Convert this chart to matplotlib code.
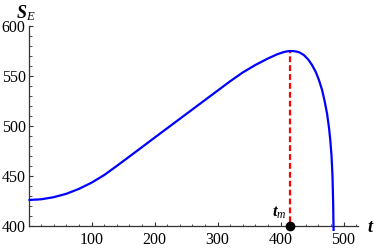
import matplotlib
matplotlib.use("Agg")
import matplotlib.pyplot as plt
from matplotlib.ticker import MultipleLocator

plt.rcParams['font.family'] = ['Liberation Serif', 'DejaVu Serif']
plt.rcParams['mathtext.fontset'] = 'custom'
plt.rcParams['mathtext.rm'] = 'Liberation Serif'
plt.rcParams['mathtext.it'] = 'Liberation Serif:italic'
plt.rcParams['mathtext.bf'] = 'Liberation Serif:italic:bold'

# curve
t_vals = [0, 20, 40, 60, 80, 100, 120, 140, 160, 180, 200, 230, 260, 290, 320,
          340, 360, 380, 395, 405, 410, 415, 420, 425, 430, 437, 444,
          450, 456, 461, 466, 470, 474, 477, 479, 481, 482.5, 483.5, 484, 484.3]
s_vals = [426, 426.7, 428.8, 432.2, 437.1, 443.3, 450.9, 460, 469.4, 478.8, 488.3,
          502.4, 516.5, 530.6, 544.7, 553.5, 561, 567.5, 571.8, 573.9, 574.6,
          575, 574.9, 574.5, 573.6, 571, 566.5, 561, 554, 546,
          536, 525, 512, 498, 486, 470, 450, 425, 405, 395]
t_m = 415
s_max = 575
s_low = 395

x_ticks = [100, 200, 300, 400, 500]
y_ticks = [400, 450, 500, 550, 600]

fig = plt.figure(figsize=(3.74, 2.5), dpi=100)
ax = fig.add_axes([28.5/374, 24/250, (358-28.5)/374, 200/250])
ax.set_xlim(0, 523)
ax.set_ylim(400, 600)

ax.plot(t_vals, s_vals, color='#0000ff', lw=1.6, solid_capstyle='butt',
        solid_joinstyle='round', clip_on=False, zorder=3)
ax.plot([t_m, t_m], [s_low, s_max], color='#ff0000', lw=1.6, dashes=(2.6, 1.4),
        clip_on=False, zorder=2)
ax.plot([t_m], [400], 'o', color='black', ms=6, clip_on=False, zorder=5)

for side in ['top', 'right']:
    ax.spines[side].set_visible(False)
for side in ['left', 'bottom']:
    ax.spines[side].set_color('#333333')
    ax.spines[side].set_linewidth(0.9)

ax.set_xticks(x_ticks)
ax.set_yticks(y_ticks)
ax.xaxis.set_minor_locator(MultipleLocator(20))
ax.yaxis.set_minor_locator(MultipleLocator(10))
ax.tick_params(which='major', direction='in', length=3, width=0.8, labelsize=11.5, color='#333333')
ax.tick_params(which='minor', direction='in', length=1.8, width=0.6, color='#333333')
ax.tick_params(axis='x', pad=4)
ax.tick_params(axis='y', pad=2)

fig.text(16/374, 1-13/250, r'$\mathbf{S}_{\mathit{E}}$', fontsize=13, ha='left', va='center')
fig.text(367/374, 1-227/250, r'$\mathbf{t}$', fontsize=13, ha='left', va='center')
ax.annotate(r'$\mathbf{t}_{\mathit{m}}$', xy=(t_m, 400), xytext=(-7.5, 9.5),
            textcoords='offset points', fontsize=12, ha='center', va='center')

fig.savefig('out.png', dpi=100)
